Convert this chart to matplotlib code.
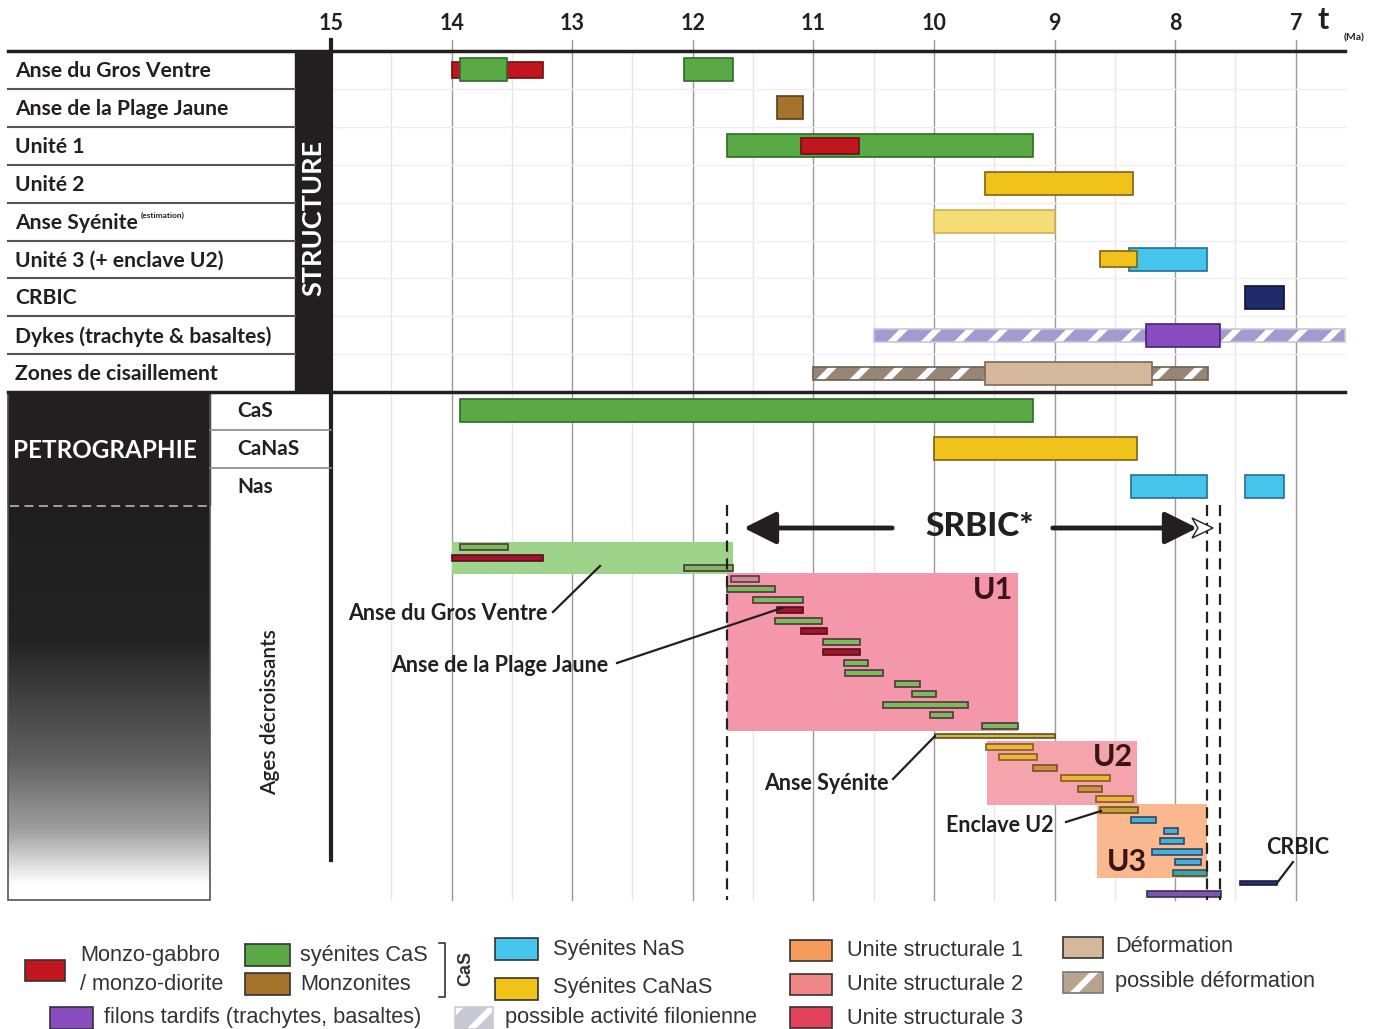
import numpy as np
import matplotlib.pyplot as plt
from matplotlib.patches import Rectangle, Polygon, FancyArrowPatch

plt.rcParams["hatch.linewidth"] = 4.5

W, H = 1386, 1029
X15, PX_PER_MA = 331.0, 120.6   # pixel column of 15 Ma, pixels per Ma


def ma(px):
    return 15 - (px - X15) / PX_PER_MA


# ---------------- data (ages in Ma) ----------------
TICKS = [15, 14, 13, 12, 11, 10, 9, 8, 7]

STRUCT_LABELS = ["Anse du Gros Ventre", "Anse de la Plage Jaune", "Unité 1", "Unité 2",
                 "Anse Syénite", "Unité 3 (+ enclave U2)", "CRBIC",
                 "Dykes (trachyte & basaltes)", "Zones de cisaillement"]
STRUCT_ROW = [0, 0, 0, 1, 2, 2, 3, 4, 5, 5, 6, 7, 8]
STRUCT_START = [14.00, 13.93, 12.07, 11.30, 11.72, 11.10, 9.58, 10.00, 8.38, 8.62, 7.42, 8.24, 9.58]
STRUCT_END = [13.24, 13.54, 11.67, 11.09, 9.18, 10.62, 8.35, 9.00, 7.74, 8.32, 7.10, 7.63, 8.19]
STRUCT_KIND = ["monzo", "cas", "cas", "monzonite", "cas", "monzo", "canas", "canas_est",
               "nas", "canas", "crbic", "filon", "deform"]
STRUCT_THIN = [True, False, False, False, False, True, False, False, False, True, False, False, False]

HATCH_ROW = [7, 8]
HATCH_START = [10.50, 11.00]
HATCH_END = [6.59, 7.73]
HATCH_KIND = ["filon", "deform"]

PETRO_LABELS = ["CaS", "CaNaS", "Nas"]
PETRO_ROW = [0, 1, 2, 2]
PETRO_START = [13.93, 10.00, 8.37, 7.42]
PETRO_END = [9.18, 8.32, 7.74, 7.10]
PETRO_KIND = ["cas", "canas", "nas", "nas"]

# individual ages, ranked by decreasing age (one slot each)
AGE_START = [13.93, 14.00, 12.07, 11.68, 11.72, 11.50, 11.30, 11.32, 11.10, 10.92, 10.92,
             10.75, 10.74, 10.32, 10.18, 10.42, 10.03, 9.60, 9.99, 9.57, 9.46, 9.18, 8.95,
             8.81, 8.66, 8.62, 8.37, 8.09, 8.13, 8.19, 8.00, 8.02, 7.46, 8.23]
AGE_END = [13.53, 13.24, 11.67, 11.45, 11.32, 11.09, 11.09, 10.93, 10.89, 10.61, 10.61,
           10.55, 10.42, 10.12, 9.98, 9.72, 9.84, 9.30, 9.00, 9.18, 9.15, 8.98, 8.54,
           8.61, 8.35, 8.31, 8.16, 7.98, 7.93, 7.78, 7.79, 7.74, 7.16, 7.62]
AGE_KIND = ["cas", "monzo", "cas", "mauve", "cas", "cas", "monzo", "cas", "monzo", "cas", "monzo",
            "cas", "cas", "cas", "cas", "cas", "cas", "cas", "sye", "canas", "canas", "canas_b",
            "canas", "canas_b", "canas", "enclave", "nas", "nas", "nas", "nas", "nas", "nas_t",
            "crbic", "filon"]

# groups of ages: name, start, end, first slot, last slot
BOX_NAMES = ["AGV", "U1", "U2", "U3"]
BOX_START = [14.00, 11.72, 9.56, 8.65]
BOX_END = [11.67, 9.30, 8.32, 7.74]
BOX_FIRST = [0, 3, 19, 25]
BOX_LAST = [2, 17, 24, 31]
BOX_COLOR = ["#9dd38a", "#f497ab", "#f5a3ac", "#fbb88f"]

DASHED_AT = [11.72, 7.74, 7.63]

COLORS = {
    "monzo": ("#c2161f", "#6e0f12"),
    "cas": ("#59a945", "#2f6a2a"),
    "monzonite": ("#a5732b", "#5c3d14"),
    "canas": ("#f1c31a", "#7f6212"),
    "canas_est": ("#f6dc74", "#cdb258"),
    "nas": ("#45c4ec", "#246f95"),
    "crbic": ("#1e2a6c", "#0b1135"),
    "filon": ("#8a4dbf", "#4a2370"),
    "deform": ("#d5b79c", "#7b6a58"),
}
# stripe colour, border colour
HATCH_COLORS = {"filon": ("#a39bd0", "#c9c4e4"), "deform": ("#978675", "#6e5f50")}
AGE_COLORS = {
    "cas": ("#7fb85e", "#4b3838"), "monzo": ("#9d1630", "#5a0c18"),
    "mauve": ("#c98d99", "#5a3a40"), "sye": ("#d9b642", "#5e4e1e"),
    "canas": ("#e7b83c", "#8a5a20"), "canas_b": ("#cc914a", "#7a4f20"),
    "enclave": ("#c9a13c", "#6a5020"), "nas": ("#4aaed6", "#2a4a6a"),
    "nas_t": ("#4a9e9e", "#2a5a5a"), "crbic": ("#2a2f6e", "#1a1d48"),
    "filon": ("#7a5aa8", "#3e2a60"),
}

# ---------------- layout ----------------
TOP, ROW_H = 51.0, 37.9
AGE_Y0, AGE_DY = 547.0, 10.5
BOLD = dict(family="Lato", fontweight="bold", color="#231f20")

fig = plt.figure(figsize=(W / 100, H / 100), dpi=100)
ax = fig.add_axes([0, 0, 1, 1], zorder=2)
ax.set_xlim(ma(0), ma(W))
ax.set_ylim(H, 0)
ax.axis("off")
lay = fig.add_axes([0, 0, 1, 1], zorder=3)
lay.set_xlim(0, W)
lay.set_ylim(H, 0)
lay.axis("off")


def row_y(i):
    return TOP + ROW_H * (i + 0.5)


# grid
for t in np.arange(14.5, 6.5, -1.0):
    ax.plot([t, t], [TOP, 900], color="#e6e6e6", lw=1, zorder=0)
for t in TICKS[1:]:
    ax.plot([t, t], [40, 900], color="#9a9a9a", lw=1, zorder=0)
    ax.text(t, 24, str(t), ha="center", va="center", fontsize=15.5, **BOLD)
ax.text(15, 24, "15", ha="center", va="center", fontsize=15.5, **BOLD)
ax.plot([15, 15], [40, 860], color="#231f20", lw=3, zorder=4)
for i in range(1, 9):
    ax.plot([15, ma(1345)], [TOP + ROW_H * i] * 2, color="#efefef", lw=1, zorder=0)

# structure bars
for k, (s, e) in enumerate(zip(HATCH_START, HATCH_END)):
    hc, ec = HATCH_COLORS[HATCH_KIND[k]]
    y = row_y(HATCH_ROW[k])
    ax.barh(y, e - s, left=s, height=13, color=hc, hatch="/", edgecolor="white", lw=0, zorder=2)
    ax.barh(y, e - s, left=s, height=13, fill=False, edgecolor=ec, lw=1.2, zorder=2)
for k, (s, e) in enumerate(zip(STRUCT_START, STRUCT_END)):
    fc, ec = COLORS[STRUCT_KIND[k]]
    h = 16 if STRUCT_THIN[k] else 23
    ax.barh(row_y(STRUCT_ROW[k]), e - s, left=s, height=h, color=fc, edgecolor=ec, lw=1.2, zorder=3)

# petrography bars
for k, (s, e) in enumerate(zip(PETRO_START, PETRO_END)):
    fc, ec = COLORS[PETRO_KIND[k]]
    ax.barh(392 + ROW_H * (PETRO_ROW[k] + 0.5), e - s, left=s, height=23,
            color=fc, edgecolor=ec, lw=1.2, zorder=3)

# age groups and individual ages
for k in range(len(BOX_NAMES)):
    y0 = AGE_Y0 + AGE_DY * BOX_FIRST[k] - 5.5
    y1 = AGE_Y0 + AGE_DY * BOX_LAST[k] + 5.5
    ax.barh((y0 + y1) / 2, BOX_END[k] - BOX_START[k], left=BOX_START[k], height=y1 - y0,
            color=BOX_COLOR[k], lw=0, zorder=1)
for k, (s, e) in enumerate(zip(AGE_START, AGE_END)):
    fc, ec = AGE_COLORS[AGE_KIND[k]]
    h = 3.5 if AGE_KIND[k] in ("sye", "crbic") else 6
    ax.barh(AGE_Y0 + AGE_DY * k, e - s, left=s, height=h, color=fc, edgecolor=ec, lw=1.2, zorder=3)
for t in DASHED_AT:
    ax.plot([t, t], [505, 900], color="#231f20", lw=1.6, ls=(0, (5, 3)), zorder=4)

# ---------------- left panels ----------------
lay.plot([8, 1345], [TOP, TOP], color="#231f20", lw=2.5)
lay.plot([8, 1345], [392, 392], color="#231f20", lw=2.5)
lay.add_patch(Rectangle((295, TOP), 36, 392 - TOP, color="#231f20"))
lay.text(313, 218, "STRUCTURE", rotation=90, ha="center", va="center", fontsize=19.5,
         family="Lato", fontweight="bold", color="white")
for i, lab in enumerate(STRUCT_LABELS):
    if i < 8:
        lay.plot([8, 295], [TOP + ROW_H * (i + 1)] * 2, color="#555555", lw=1.5)
    lay.text(15, row_y(i) + 1, lab, ha="left", va="center", fontsize=15.2, **BOLD)
lay.text(141, 215, "(estimation)", ha="left", va="center", fontsize=6, **BOLD)

lay.add_patch(Rectangle((8, 392), 202, 113, color="#231f20"))
yy = np.linspace(505, 900, 200)
shade = np.interp(yy, [505, 640, 760, 830, 885, 900], [0.12, 0.14, 0.38, 0.62, 1.0, 1.0])
lay.imshow(np.tile(shade[:, None], (1, 2)), extent=(8, 210, 900, 505), cmap="gray",
           vmin=0, vmax=1, aspect="auto", interpolation="bilinear")
lay.add_patch(Rectangle((8, 392), 202, 508, fill=False, edgecolor="#555555", lw=1.2))
lay.plot([10, 208], [506, 506], color="#aaaaaa", lw=1.3, ls=(0, (5, 3)))
lay.text(105, 450, "PETROGRAPHIE", ha="center", va="center", fontsize=17.5,
         family="Lato", fontweight="bold", color="white")
for i, lab in enumerate(PETRO_LABELS):
    lay.text(237, 392 + ROW_H * (i + 0.5), lab, ha="left", va="center", fontsize=15, **BOLD)
for y in (430, 468):
    lay.plot([210, 331], [y, y], color="#888888", lw=1.2)
lay.text(270, 712, "Ages décroissants", rotation=90, ha="center", va="center", fontsize=15,
         family="Lato", fontweight="semibold", color="#231f20")
lay.text(1323, 20, "t", ha="center", va="center", fontsize=22, **BOLD)
lay.text(1354, 38, "(Ma)", ha="center", va="center", fontsize=7.5, **BOLD)

# ---------------- annotations ----------------
ARROW = "-|>,head_length=9,head_width=4.5"
lay.add_patch(FancyArrowPatch((895, 528), (741, 528), arrowstyle=ARROW,
                              mutation_scale=2.2, color="#231f20", lw=3.5))
lay.add_patch(Polygon([[1192, 518], [1213, 528], [1192, 538], [1198, 528]], closed=True,
                      facecolor="white", edgecolor="#231f20", lw=1))
lay.add_patch(FancyArrowPatch((1050, 528), (1200, 528), arrowstyle=ARROW,
                              mutation_scale=2.2, color="#231f20", lw=3.5))
lay.text(980, 527, "SRBIC*", ha="center", va="center", fontsize=24, family="Lato",
         fontweight="black", color="#231f20")

NOTES = [("Anse du Gros Ventre", 448, 614, [(553, 612), (600, 566)]),
         ("Anse de la Plage Jaune", 500, 665, [(617, 663), (782, 608)]),
         ("Anse Syénite", 826, 783, [(893, 779), (935, 736)]),
         ("Enclave U2", 1000, 826, [(1066, 822), (1101, 811)]),
         ("CRBIC", 1298, 847, [(1277, 883), (1293, 862)])]
for txt, x, y, pts in NOTES:
    lay.text(x, y, txt, ha="center", va="center", fontsize=15.5, **BOLD)
    lay.plot([p[0] for p in pts], [p[1] for p in pts], color="#231f20", lw=1.6)
for txt, x, y in [("U1", 993, 590), ("U2", 1113, 757), ("U3", 1127, 862)]:
    lay.text(x, y, txt, ha="center", va="center", fontsize=22, family="Lato",
             fontweight="bold", color="#3a1518")

# ---------------- legend ----------------
LEG = dict(family="Liberation Sans", fontsize=15.7, color="#333333", va="center", ha="left")


def swatch(x, y, w, h, fc, ec="#333333", hatch=None, hc=None):
    if hatch:
        lay.add_patch(Rectangle((x, y), w, h, facecolor=hc, edgecolor="white", hatch=hatch, lw=0))
        lay.add_patch(Rectangle((x, y), w, h, fill=False, edgecolor=ec, lw=1.2))
    else:
        lay.add_patch(Rectangle((x, y), w, h, facecolor=fc, edgecolor=ec, lw=1.2))


swatch(25, 960, 40, 21, COLORS["monzo"][0])
lay.text(80, 956, "Monzo-gabbro", **LEG)
lay.text(80, 984, "/ monzo-diorite", **LEG)
swatch(245, 944, 45, 22, COLORS["cas"][0])
lay.text(300, 955, "syénites CaS", **LEG)
swatch(245, 973, 45, 22, COLORS["monzonite"][0])
lay.text(300, 985, "Monzonites", **LEG)
lay.plot([439, 445, 445, 439], [943, 943, 997, 997], color="#333333", lw=1.2)
lay.text(466, 968, "CaS", rotation=90, ha="center", va="center", fontsize=13,
         family="Liberation Sans", fontweight="bold", color="#333333")
swatch(495, 938, 43, 22, COLORS["nas"][0])
lay.text(553, 950, "Syénites NaS", **LEG)
swatch(495, 978, 43, 22, COLORS["canas"][0])
lay.text(553, 988, "Syénites CaNaS", **LEG)
swatch(50, 1007, 43, 22, COLORS["filon"][0])
lay.text(104, 1018, "filons tardifs (trachytes, basaltes)", **LEG)
swatch(455, 1007, 38, 22, None, ec="#cccccc", hatch="/", hc="#c9c9d6")
lay.text(505, 1018, "possible activité filonienne", **LEG)
swatch(790, 940, 42, 21, "#f59b5c")
lay.text(847, 950, "Unite structurale 1", **LEG)
swatch(790, 974, 42, 21, "#f08686")
lay.text(847, 985, "Unite structurale 2", **LEG)
swatch(790, 1007, 42, 21, "#e2415c")
lay.text(847, 1018, "Unite structurale 3", **LEG)
swatch(1063, 937, 40, 21, COLORS["deform"][0])
lay.text(1115, 946, "Déformation", **LEG)
swatch(1063, 972, 40, 21, None, ec="#777777", hatch="/", hc="#b8a48e")
lay.text(1115, 982, "possible déformation", **LEG)

fig.savefig("out.png", dpi=100)
